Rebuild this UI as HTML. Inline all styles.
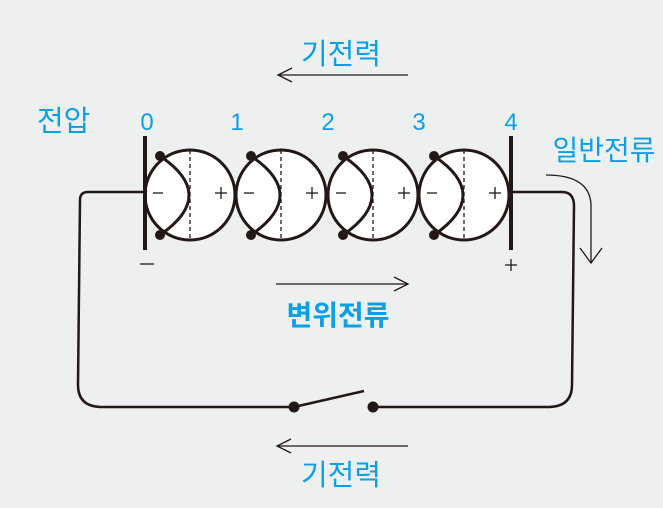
<!DOCTYPE html>
<html><head><meta charset="utf-8"><style>
html,body{margin:0;padding:0;background:#eeefef;}
svg{display:block}
text{font-family:"Liberation Sans","Noto Sans CJK KR",sans-serif;fill:#0aa0e6}
</style></head><body>
<svg width="663" height="508" viewBox="0 0 663 508">
<rect width="663" height="508" fill="#eeefef"/>
<g stroke="#231815" fill="none">
<path d="M145 192 H88 Q80 192 80 200 L78 385 Q78 406 100 407 H294" stroke-width="2.5"/>
<path d="M511 192 H562 Q574 192 574 206 L572 385 Q572 406 550 407 H373" stroke-width="2.5"/>
<line x1="294" y1="407" x2="364" y2="391" stroke-width="2.5"/>
<g stroke-width="1.3">
<line x1="278" y1="75" x2="408" y2="75"/><polyline points="292,68 278,75 292,82"/>
<line x1="276" y1="284" x2="408" y2="284"/><polyline points="394,277 408,284 394,291"/>
<line x1="277" y1="446" x2="408" y2="446"/><polyline points="291,439 277,446 291,453"/>
<path d="M546 175 Q590 175 591 205 L591 262"/><polyline points="580,248 591,263 602,248"/>
</g>
</g>
<g stroke="#231815">
<g id="c"><circle cx="190" cy="195" r="45" fill="#fff" stroke-width="3"/>
<line x1="190" y1="150" x2="190" y2="240" stroke-width="1.3" stroke-dasharray="4,3"/>
<path d="M160 156 Q218 195 160 235" fill="none" stroke-width="3"/>
<circle cx="160" cy="156" r="5" fill="#231815" stroke="none"/>
<circle cx="160" cy="235" r="5" fill="#231815" stroke="none"/>
<line x1="153" y1="193" x2="163" y2="193" stroke-width="1.3"/>
<line x1="215" y1="193" x2="227" y2="193" stroke-width="1.3"/>
<line x1="221" y1="187" x2="221" y2="199" stroke-width="1.3"/></g>
<use href="#c" x="91"/><use href="#c" x="183"/><use href="#c" x="274"/>
</g>
<g stroke="#231815" stroke-width="4"><line x1="145" y1="136" x2="145" y2="250"/><line x1="511" y1="136" x2="511" y2="250"/></g>
<g stroke="#231815" stroke-width="1.3">
<line x1="140" y1="264" x2="154" y2="264"/>
<line x1="505" y1="265" x2="517" y2="265"/><line x1="511" y1="259" x2="511" y2="271"/>
</g>
<circle cx="294" cy="407" r="5.5" fill="#231815"/>
<circle cx="373" cy="407" r="5.5" fill="#231815"/>
<text x="341" y="64" font-size="29" text-anchor="middle">기전력</text>
<text x="37" y="131" font-size="29">전압</text>
<g font-size="24" text-anchor="middle">
<text x="147" y="130">0</text><text x="237" y="130">1</text><text x="328" y="130">2</text><text x="419" y="130">3</text><text x="511" y="130">4</text>
</g>
<text x="604" y="160" font-size="28" text-anchor="middle">일반전류</text>
<text x="338" y="325" font-size="28" font-weight="bold" text-anchor="middle">변위전류</text>
<text x="341" y="485" font-size="29" text-anchor="middle">기전력</text>
</svg>
</body></html>
